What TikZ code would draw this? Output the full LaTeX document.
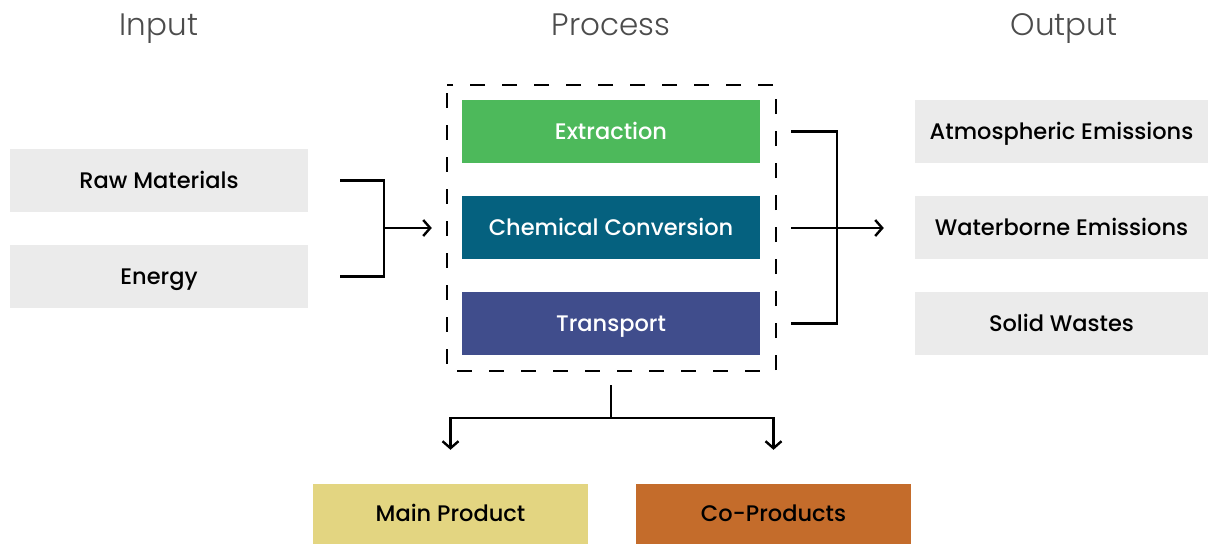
\documentclass[tikz,border=0pt]{standalone}
\usepackage{fontspec}
\setmainfont{Poppins}
\newfontfamily\headfont{Poppins Light}
\newfontfamily\boxfont{Poppins Medium}
\usetikzlibrary{arrows.meta}
\definecolor{boxgray}{HTML}{EBEBEB}
\definecolor{extractgreen}{HTML}{4DB95B}
\definecolor{chemteal}{HTML}{05617F}
\definecolor{transblue}{HTML}{404D8C}
\definecolor{mainyellow}{HTML}{E3D581}
\definecolor{coorange}{HTML}{C46C2B}
\tikzset{
        head/.style={text=black!70, anchor=base, font=\headfont\fontsize{31}{33}\selectfont},
        label/.style={text height=15.5pt, text depth=0pt, font=\boxfont\fontsize{22.5}{24}\selectfont},
        sidebox/.style={label, fill=boxgray, minimum width=298pt, minimum height=63pt, inner sep=0pt},
        procbox/.style={label, fill=#1, text=white, minimum width=298pt, minimum height=63pt, inner sep=0pt},
        prodbox/.style={label, fill=#1, minimum width=275pt, minimum height=60pt, inner sep=0pt},
        link/.style={line width=2.4pt},
        arr/.style={line width=2.4pt, -{Straight Barb[length=7pt,width=16pt,line width=2.4pt]}}
}
\begin{document}
\begin{tikzpicture}[x=1pt, y=-1pt]
        \useasboundingbox (0,0) rectangle (1208,544);

        \draw (159,35) node[head] (input) {Input};
        \draw (611,35) node[head] (process) {Process};
        \draw (1064,35) node[head] (output) {Output};

        \draw (159,180.5) node[sidebox] (raw) {Raw Materials};
        \draw (159,276.5) node[sidebox] (energy) {Energy};

        \draw[line width=1.4pt, dash pattern=on 15pt off 17pt, dash phase=-8pt] (447,85) rectangle (776,371);
        \draw (611,131.5) node[procbox=extractgreen] (extr) {Extraction};
        \draw (611,227.5) node[procbox=chemteal] (chem) {Chemical Conversion};
        \draw (611,323.5) node[procbox=transblue] (trans) {Transport};

        \draw (1061.5,131.5) node[sidebox, minimum width=293pt] (atmo) {Atmospheric Emissions};
        \draw (1061.5,227.5) node[sidebox, minimum width=293pt] (water) {Waterborne Emissions};
        \draw (1061.5,323.5) node[sidebox, minimum width=293pt] (solid) {Solid Wastes};

        \draw (450.5,514) node[prodbox=mainyellow] (main) {Main Product};
        \draw (773.5,514) node[prodbox=coorange] (co) {Co-Products};

        \coordinate (injoin) at (384,228);
        \coordinate (outjoin) at (837,228);
        \coordinate (downjoin) at (611,418);

        \draw[link] ([xshift=32pt]raw.east) -| (injoin);
        \draw[link] ([xshift=32pt]energy.east) -| (injoin);
        \draw[arr] (injoin) -- ([xshift=-30pt]extr.west |- injoin);

        \draw[link] ([xshift=31pt]extr.east) -| (outjoin);
        \draw[link] ([xshift=31pt]trans.east) -| (outjoin);
        \draw[link] ([xshift=31pt]chem.east |- outjoin) -- (outjoin);
        \draw[arr] (outjoin) -- ([xshift=-31pt]water.west |- outjoin);

        \draw[link] (611,385) -- (downjoin);
        \draw[arr] (downjoin) -| ([yshift=34pt]main.north);
        \draw[arr] (downjoin) -| ([yshift=34pt]co.north);
\end{tikzpicture}
\end{document}
